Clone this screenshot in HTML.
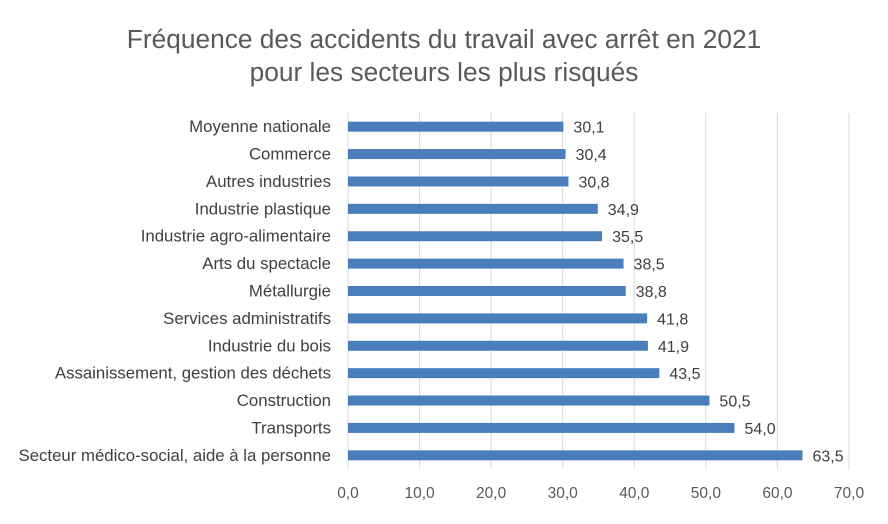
<!DOCTYPE html>
<html><head><meta charset="utf-8"><style>
body{margin:0;background:#fff;}
svg text{font-family:"Liberation Sans",Calibri,sans-serif;}
</style></head><body>
<svg id="chart" width="888" height="519" xmlns="http://www.w3.org/2000/svg">
<rect width="888" height="519" fill="#fff"/>
<text x="444" y="48" text-anchor="middle" font-size="26.3" fill="#595959">Fréquence des accidents du travail avec arrêt en 2021</text>
<text x="444" y="81" text-anchor="middle" font-size="26.3" fill="#595959">pour les secteurs les plus risqués</text>
<g id="grid"></g><g id="bars"></g><g id="labels"></g><g id="xticks"></g>
</svg>
<script>
const categories=["Moyenne nationale","Commerce","Autres industries","Industrie plastique","Industrie agro-alimentaire","Arts du spectacle","Métallurgie","Services administratifs","Industrie du bois","Assainissement, gestion des déchets","Construction","Transports","Secteur médico-social, aide à la personne"];
const values=[30.1,30.4,30.8,34.9,35.5,38.5,38.8,41.8,41.9,43.5,50.5,54.0,63.5];
const tickValues=[0,10,20,30,40,50,60,70];
const NS="http://www.w3.org/2000/svg";
const x0=348,x1=849,yTop=113,yBot=469,xMax=70;
const xs=v=>x0+(v/xMax)*(x1-x0);
const band=(yBot-yTop)/categories.length;
const yc=i=>yTop+band*(i+0.5);
function mk(tag,attrs,parent){const e=document.createElementNS(NS,tag);for(const k in attrs)e.setAttribute(k,attrs[k]);document.getElementById(parent).appendChild(e);return e;}
tickValues.forEach(t=>{
 const l=mk("line",{x1:xs(t),x2:xs(t),y1:yTop,y2:yBot,stroke:"#d9d9d9","stroke-width":1},"grid");
 
 
 const tx=mk("text",{x:xs(t),y:498,"text-anchor":"middle","font-size":15.5,fill:"#595959"},"xticks");
 tx.textContent=t.toFixed(1).replace('.',',');
 
 
});
categories.forEach((c,i)=>{
 const y=yc(i);
 const r=mk("rect",{x:x0,y:y-5,width:xs(values[i])-x0,height:10,fill:"#4a7ebb"},"bars");
 
 
 const lb=mk("text",{x:331,y:y+5.5,"text-anchor":"end","font-size":16.8,fill:"#404040"},"labels");
 lb.textContent=c;
 
 
 const vl=mk("text",{x:xs(values[i])+10,y:y+6,"font-size":16,fill:"#404040"},"labels");
 vl.textContent=values[i].toFixed(1).replace('.',',');
 
 
});
</script>
</body></html>
